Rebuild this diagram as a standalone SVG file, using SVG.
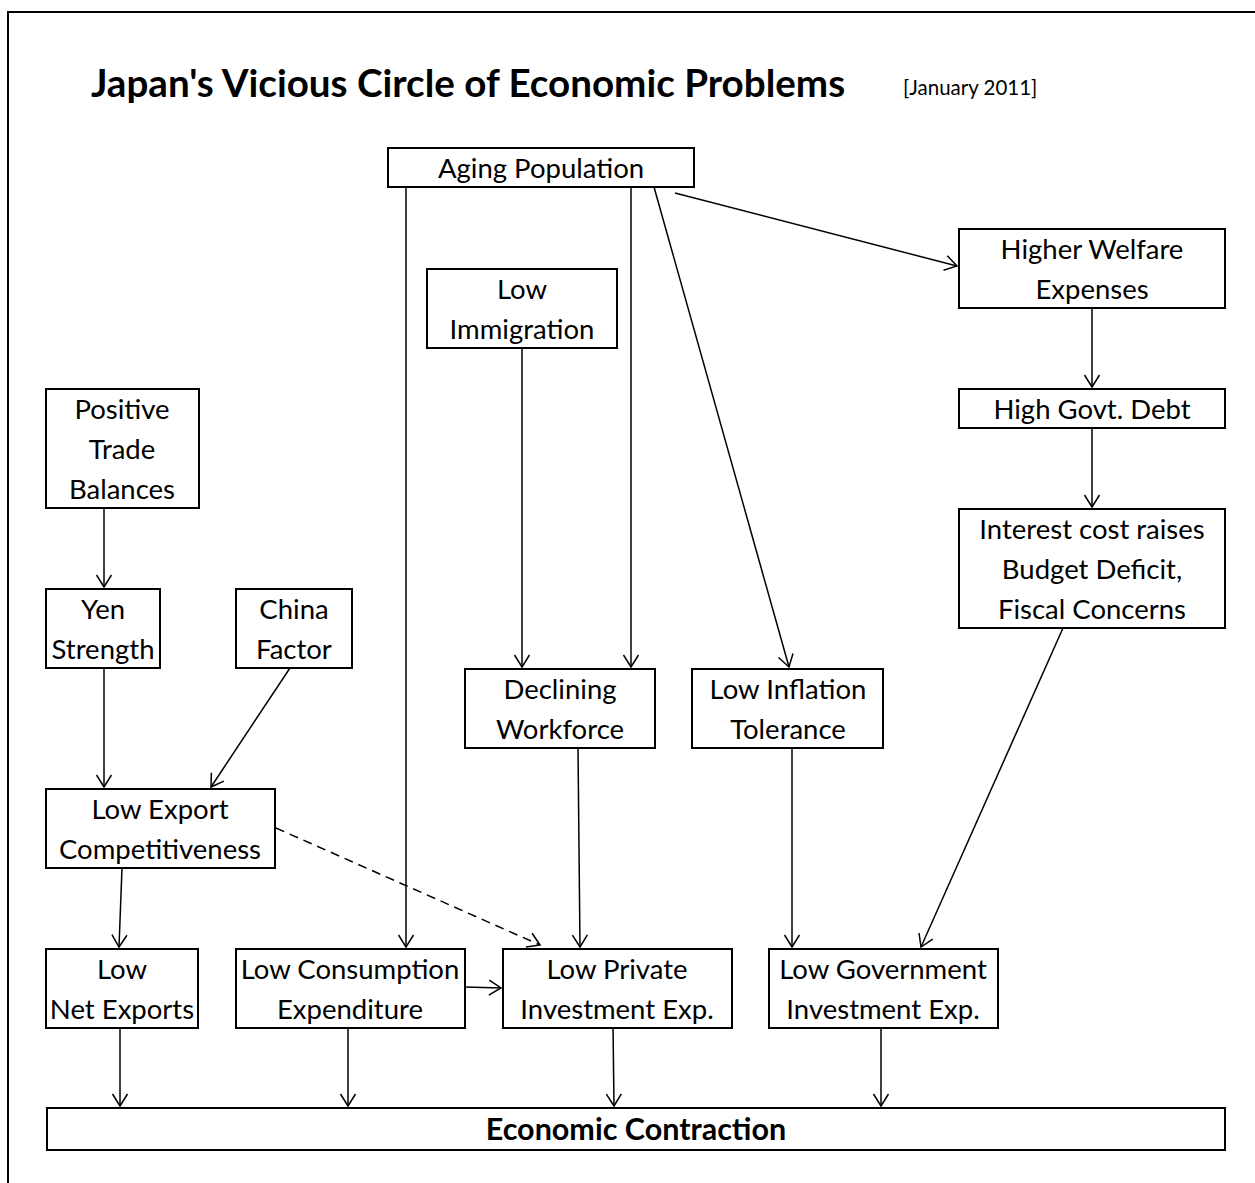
<svg xmlns="http://www.w3.org/2000/svg" width="1255" height="1183" viewBox="0 0 1255 1183">
<style>
.box{fill:#fff;stroke:#000;stroke-width:2}
.t{font-family:Lato,"Open Sans",sans-serif;font-size:27.5px;text-anchor:middle;fill:#000}
.c{fill:none;stroke:#000;stroke-width:1.5}
</style>
<defs>
<marker id="a" markerUnits="userSpaceOnUse" markerWidth="16" markerHeight="18" viewBox="-14 -9 16 18" refX="0" refY="0" orient="auto">
<path d="M-12,-7.5 L0,0 L-12,7.5" fill="none" stroke="#000" stroke-width="1.5"/>
</marker>
</defs>
<rect x="0" y="0" width="1255" height="1183" fill="#fff"/>
<rect x="8" y="12" width="1260" height="1190" fill="none" stroke="#000" stroke-width="2"/>
<text x="91" y="97" font-family="Lato,'Open Sans',sans-serif" font-size="38.6" font-weight="bold">Japan's Vicious Circle of Economic Problems</text>
<text x="903" y="95" font-family="Lato,'Open Sans',sans-serif" font-size="20.5">[January 2011]</text>
<g id="connectors">
<line class="c" x1="406" y1="187" x2="406" y2="947" marker-end="url(#a)"/>
<line class="c" x1="631" y1="187" x2="631" y2="667" marker-end="url(#a)"/>
<line class="c" x1="654" y1="187" x2="789" y2="667" marker-end="url(#a)"/>
<line class="c" x1="675" y1="193" x2="957" y2="266" marker-end="url(#a)"/>
<line class="c" x1="1092" y1="308" x2="1092" y2="387" marker-end="url(#a)"/>
<line class="c" x1="1092" y1="428" x2="1092" y2="507" marker-end="url(#a)"/>
<line class="c" x1="1063" y1="628" x2="921" y2="947" marker-end="url(#a)"/>
<line class="c" x1="522" y1="348" x2="522" y2="667" marker-end="url(#a)"/>
<line class="c" x1="104" y1="508" x2="104" y2="587" marker-end="url(#a)"/>
<line class="c" x1="104" y1="668" x2="104" y2="787" marker-end="url(#a)"/>
<line class="c" x1="290" y1="668" x2="211" y2="787" marker-end="url(#a)"/>
<line class="c" x1="122" y1="868" x2="119" y2="947" marker-end="url(#a)"/>
<line class="c" x1="276" y1="828" x2="540" y2="945" stroke-dasharray="9,6" marker-end="url(#a)"/>
<line class="c" x1="578" y1="748" x2="580" y2="947" marker-end="url(#a)"/>
<line class="c" x1="792" y1="748" x2="792" y2="947" marker-end="url(#a)"/>
<line class="c" x1="465" y1="987" x2="501" y2="988" marker-end="url(#a)"/>
<line class="c" x1="120" y1="1028" x2="120" y2="1106" marker-end="url(#a)"/>
<line class="c" x1="348" y1="1028" x2="348" y2="1106" marker-end="url(#a)"/>
<line class="c" x1="613" y1="1025" x2="614" y2="1106" marker-end="url(#a)"/>
<line class="c" x1="881" y1="1028" x2="881" y2="1106" marker-end="url(#a)"/>
</g>
<g id="aging"><rect class="box" x="388" y="148" width="306" height="39"/><text class="t" x="541" y="178">Aging Population</text></g>
<g id="welfare"><rect class="box" x="959" y="229" width="266" height="79"/><text class="t" x="1092" y="259">Higher Welfare</text><text class="t" x="1092" y="299">Expenses</text></g>
<g id="debt"><rect class="box" x="959" y="389" width="266" height="39"/><text class="t" x="1092" y="419">High Govt. Debt</text></g>
<g id="interest"><rect class="box" x="959" y="509" width="266" height="119"/><text class="t" x="1092" y="539">Interest cost raises</text><text class="t" x="1092" y="579">Budget Deficit,</text><text class="t" x="1092" y="619">Fiscal Concerns</text></g>
<g id="immigration"><rect class="box" x="427" y="269" width="190" height="79"/><text class="t" x="522" y="299">Low</text><text class="t" x="522" y="339">Immigration</text></g>
<g id="trade"><rect class="box" x="46" y="389" width="153" height="119"/><text class="t" x="122" y="419">Positive</text><text class="t" x="122" y="459">Trade</text><text class="t" x="122" y="499">Balances</text></g>
<g id="yen"><rect class="box" x="46" y="589" width="114" height="79"/><text class="t" x="103" y="619">Yen</text><text class="t" x="103" y="659">Strength</text></g>
<g id="china"><rect class="box" x="236" y="589" width="116" height="79"/><text class="t" x="294" y="619">China</text><text class="t" x="294" y="659">Factor</text></g>
<g id="workforce"><rect class="box" x="465" y="669" width="190" height="79"/><text class="t" x="560" y="699">Declining</text><text class="t" x="560" y="739">Workforce</text></g>
<g id="inflation"><rect class="box" x="692" y="669" width="191" height="79"/><text class="t" x="788" y="699">Low Inflation</text><text class="t" x="788" y="739">Tolerance</text></g>
<g id="export"><rect class="box" x="46" y="789" width="229" height="79"/><text class="t" x="160" y="819">Low Export</text><text class="t" x="160" y="859">Competitiveness</text></g>
<g id="netexports"><rect class="box" x="46" y="949" width="152" height="79"/><text class="t" x="122" y="979">Low</text><text class="t" x="122" y="1019">Net Exports</text></g>
<g id="consumption"><rect class="box" x="236" y="949" width="229" height="79"/><text class="t" x="350" y="979">Low Consumption</text><text class="t" x="350" y="1019">Expenditure</text></g>
<g id="private"><rect class="box" x="503" y="949" width="229" height="79"/><text class="t" x="617" y="979">Low Private</text><text class="t" x="617" y="1019">Investment Exp.</text></g>
<g id="government"><rect class="box" x="769" y="949" width="229" height="79"/><text class="t" x="883" y="979">Low Government</text><text class="t" x="883" y="1019">Investment Exp.</text></g>
<g id="contraction"><rect class="box" x="47" y="1108" width="1178" height="42"/><text class="t" x="636" y="1140" style="font-size:30.5px;font-weight:bold">Economic Contraction</text></g>
</svg>
